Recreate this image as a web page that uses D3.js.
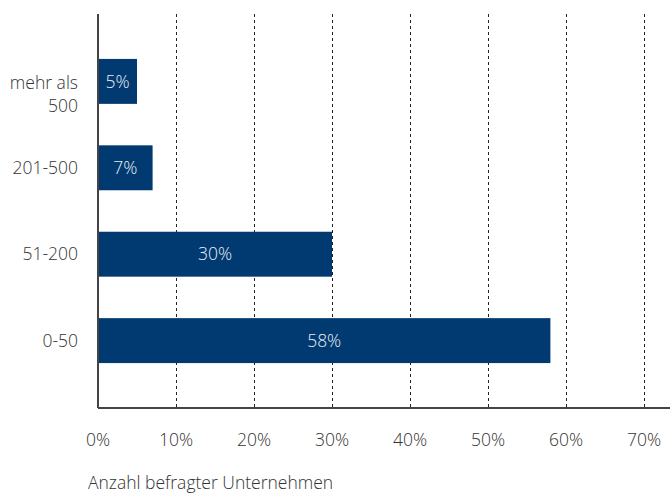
<!DOCTYPE html>
<html>
<head>
<meta charset="utf-8">
<script src="https://cdn.jsdelivr.net/npm/d3@7"></script>
<style>
body { margin: 0; background: #fff; }
svg { font-family: "Open Sans", sans-serif; font-weight: 300; }
</style>
</head>
<body>
<div id="chart"></div>
<script>
var categories = ["mehr als 500", "201-500", "51-200", "0-50"];
var values = [5, 7, 30, 58];
var valueLabels = ["5%", "7%", "30%", "58%"];
var ticks = [0, 10, 20, 30, 40, 50, 60, 70];
var axisTitle = "Anzahl befragter Unternehmen";

var width = 670, height = 495;
var margin = { top: 14, right: 0, bottom: 87, left: 98 };
var fontSize = "17.5px";

var svg = d3.select("#chart").append("svg")
    .attr("width", width)
    .attr("height", height);

var x = d3.scaleLinear()
    .domain([0, 70])
    .range([margin.left, margin.left + 546]);

var y = d3.scaleBand()
    .domain(categories)
    .range([margin.top, height - margin.bottom])
    .paddingInner(0.48)
    .paddingOuter(0.52);

var bottom = height - margin.bottom;

// dashed gridlines
svg.append("g")
    .selectAll("line")
    .data(ticks.slice(1))
    .enter().append("line")
    .attr("x1", function(d) { return x(d) + 0.5; })
    .attr("x2", function(d) { return x(d) + 0.5; })
    .attr("y1", margin.top)
    .attr("y2", bottom)
    .attr("stroke", "#222")
    .attr("stroke-width", 1)
    .attr("stroke-dasharray", "3,3");

// bars
svg.selectAll(".bar")
    .data(values)
    .enter().append("rect")
    .attr("class", "bar")
    .attr("x", x(0))
    .attr("y", function(d, i) { return y(categories[i]); })
    .attr("width", function(d) { return x(d) - x(0); })
    .attr("height", y.bandwidth())
    .attr("fill", "#003a70");

// bar value labels
svg.selectAll(".val")
    .data(values)
    .enter().append("text")
    .attr("class", "val")
    .attr("x", function(d) { return x(0) + (x(d) - x(0)) / 2; })
    .attr("y", function(d, i) { return y(categories[i]) + y.bandwidth() / 2; })
    .attr("dy", "0.35em")
    .attr("text-anchor", "middle")
    .attr("fill", "#e8eef5")
    .style("font-size", fontSize)
    .text(function(d, i) { return valueLabels[i]; });

// axis lines
svg.append("line")
    .attr("x1", x(0)).attr("x2", width)
    .attr("y1", bottom).attr("y2", bottom)
    .attr("stroke", "#444").attr("stroke-width", 2);
svg.append("line")
    .attr("x1", x(0)).attr("x2", x(0))
    .attr("y1", margin.top).attr("y2", bottom)
    .attr("stroke", "#444").attr("stroke-width", 2);

// x tick labels
svg.selectAll(".xt")
    .data(ticks)
    .enter().append("text")
    .attr("class", "xt")
    .attr("x", function(d) { return x(d); })
    .attr("y", 446)
    .attr("text-anchor", "middle")
    .attr("fill", "#333")
    .style("font-size", fontSize)
    .text(function(d) { return d + "%"; });

// category labels
var catLabels = svg.selectAll(".cat")
    .data(categories)
    .enter().append("text")
    .attr("class", "cat")
    .attr("text-anchor", "end")
    .attr("fill", "#333")
    .style("font-size", fontSize);

catLabels.each(function(d) {
    var t = d3.select(this);
    var cy = y(d) + y.bandwidth() / 2;
    var lines = d === "mehr als 500" ? ["mehr als", "500"] : [d];
    var start = lines.length > 1 ? cy + 1.5 : cy;
    lines.forEach(function(l, i) {
        t.append("tspan")
            .attr("x", 78)
            .attr("y", start + i * 23)
            .attr("dy", "0.35em")
            .text(l);
    });
});

svg.append("text")
    .attr("x", 88)
    .attr("y", 489)
    .attr("fill", "#333")
    .style("font-size", fontSize)
    .text(axisTitle);
</script>
</body>
</html>
